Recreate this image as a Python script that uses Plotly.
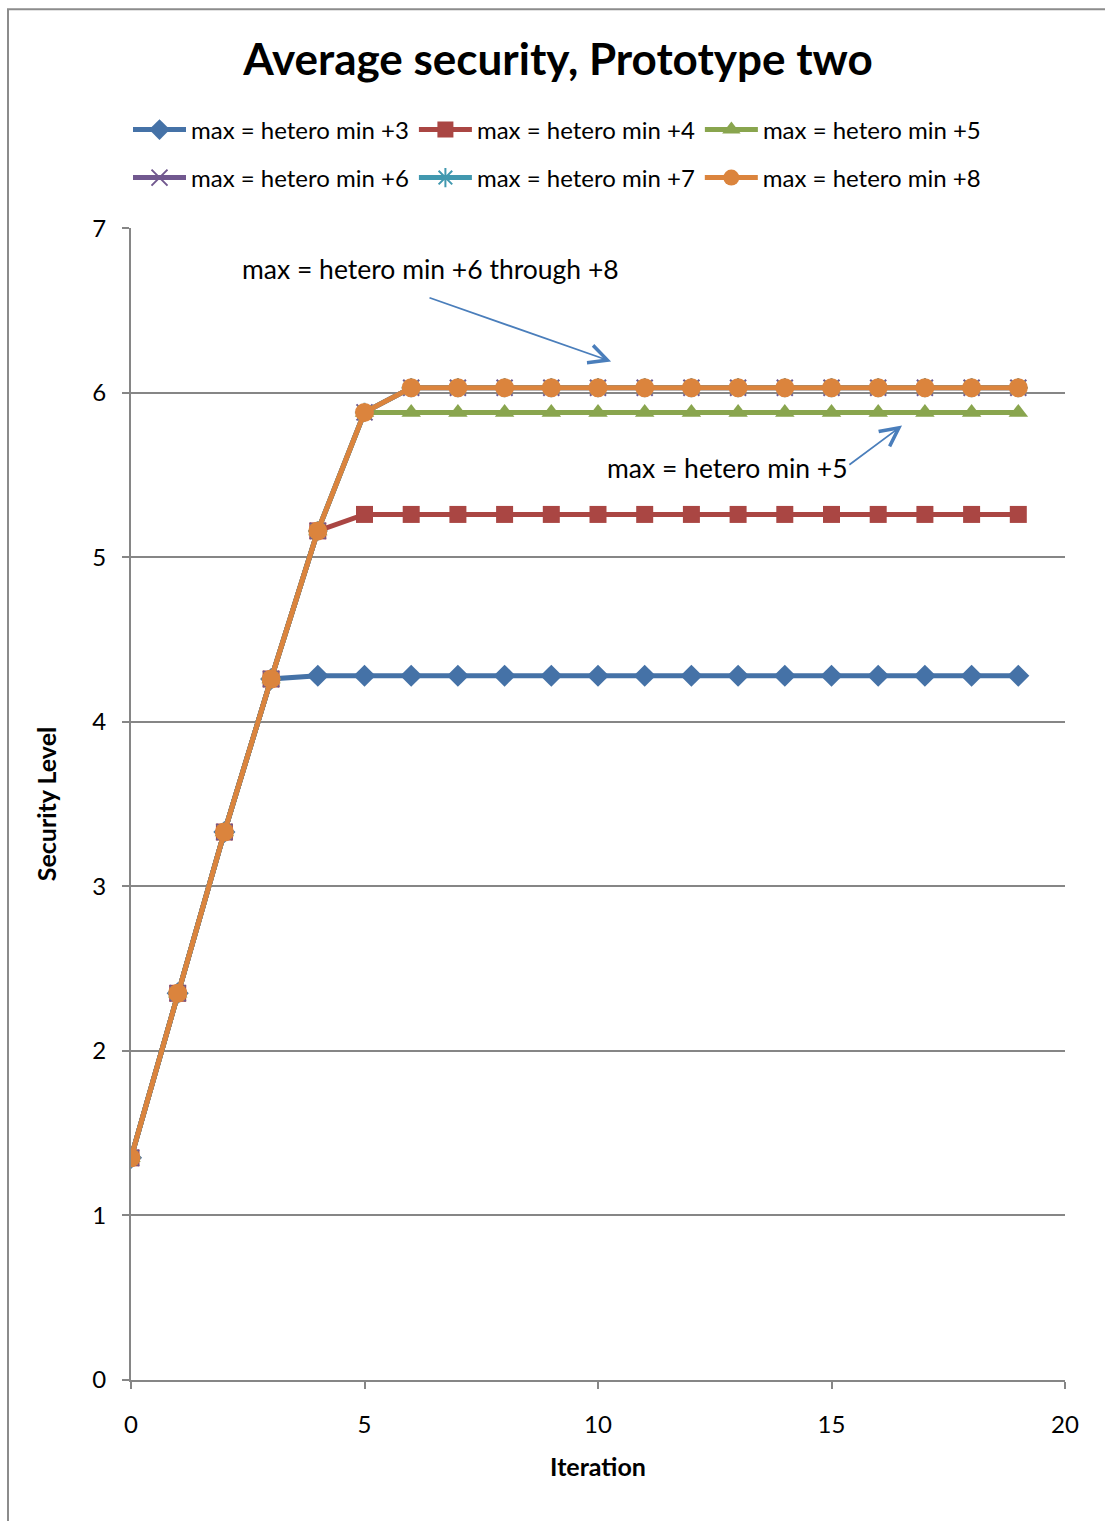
import plotly.graph_objects as go

# Average security level per iteration for each max/min spread setting
iterations = list(range(20))
sec_plus3 = [1.35, 2.35, 3.33, 4.26] + [4.28] * 16
sec_plus4 = [1.35, 2.35, 3.33, 4.26, 5.16] + [5.26] * 15
sec_plus5 = [1.35, 2.35, 3.33, 4.26, 5.16, 5.88] + [5.88] * 14
sec_plus6 = [1.35, 2.35, 3.33, 4.26, 5.16, 5.88] + [6.03] * 14
sec_plus7 = [1.35, 2.35, 3.33, 4.26, 5.16, 5.88] + [6.03] * 14
sec_plus8 = [1.35, 2.35, 3.33, 4.26, 5.16, 5.88] + [6.03] * 14

series_names = [
    "max = hetero min +3", "max = hetero min +4", "max = hetero min +5",
    "max = hetero min +6", "max = hetero min +7", "max = hetero min +8",
]
series_values = [sec_plus3, sec_plus4, sec_plus5, sec_plus6, sec_plus7, sec_plus8]
colors = ["#4572A7", "#AA4643", "#89A54E", "#71588F", "#4198AF", "#DB843D"]
symbols = ["diamond", "square", "triangle-up", "x-thin-open", "asterisk-open", "circle"]
sizes = [17, 17, 17, 16, 16, 19]
legends = ["legend", "legend", "legend", "legend2", "legend2", "legend2"]

FONT = "Lato"

fig = go.Figure()
for name, vals, col, sym, sz, lg in zip(series_names, series_values, colors, symbols, sizes, legends):
    line_marker = sym.endswith("open")
    fig.add_trace(go.Scatter(
        x=iterations, y=vals, name=name, mode="lines+markers",
        line=dict(color=col, width=5),
        marker=dict(symbol=sym, size=sz, color=col,
                    line=dict(color=col, width=2 if line_marker else 0)),
        legend=lg,
    ))

legend_common = dict(
    orientation="h", xref="container", yref="container",
    xanchor="left", yanchor="middle",
    font=dict(family=FONT, size=24, color="#000000"),
    itemwidth=53, tracegroupgap=0, bgcolor="rgba(0,0,0,0)",
    traceorder="normal",
)

fig.update_layout(
    width=1105, height=1521,
    margin=dict(l=131, r=40, t=227, b=141),
    paper_bgcolor="white", plot_bgcolor="white",
    font=dict(family=FONT, color="#000000"),
    title=dict(text="<b>Average security, Prototype two</b>",
               x=0.505, xanchor="center", y=1 - 60 / 1521, yanchor="middle",
               font=dict(family=FONT, size=44, color="#000000")),
    legend=dict(legend_common, x=128 / 1105, y=1 - 130 / 1521),
    legend2=dict(legend_common, x=128 / 1105, y=1 - 178 / 1521),
    xaxis=dict(range=[0, 20], dtick=5, tick0=0, showgrid=False, zeroline=False,
               showline=True, linecolor="#868686", linewidth=2,
               ticks="outside", ticklen=7, tickcolor="#868686", tickwidth=2,
               tickfont=dict(family=FONT, size=24), ticklabelstandoff=15,
               title=dict(text="<b>Iteration</b>", font=dict(family=FONT, size=25), standoff=22)),
    yaxis=dict(range=[0, 7], dtick=1, tick0=0, showgrid=True, gridcolor="#868686", gridwidth=1.5,
               zeroline=False, showline=True, linecolor="#868686", linewidth=2,
               ticks="outside", ticklen=7, tickcolor="#868686", tickwidth=2,
               tickfont=dict(family=FONT, size=24), ticklabelstandoff=11,
               title=dict(text="<b>Security Level</b>", font=dict(family=FONT, size=25), standoff=29)),
)

# Outer chart frame
fig.add_shape(type="rect", xref="paper", yref="paper",
              x0=-123 / 934, x1=1.2, y0=-0.3, y1=(1380 - 8) / 1153,
              line=dict(color="#8c8c8c", width=2), fillcolor="rgba(0,0,0,0)", layer="below")

# Callout texts and arrows
fig.add_annotation(x=6.42, y=6.75, text="max = hetero min +6 through +8", showarrow=False,
                   font=dict(family=FONT, size=26.5, color="#000000"))
fig.add_annotation(x=10.28, y=6.19, ax=6.36, ay=6.58, axref="x", ayref="y", text="",
                   showarrow=True, arrowhead=5, arrowsize=2, arrowwidth=1.8, arrowcolor="#4A7EBB")
fig.add_annotation(x=12.78, y=5.54, text="max = hetero min +5", showarrow=False,
                   font=dict(family=FONT, size=26.5, color="#000000"))
fig.add_annotation(x=16.51, y=5.80, ax=15.35, ay=5.555, axref="x", ayref="y", text="",
                   showarrow=True, arrowhead=5, arrowsize=2, arrowwidth=1.8, arrowcolor="#4A7EBB")

fig.write_html("out.html")
